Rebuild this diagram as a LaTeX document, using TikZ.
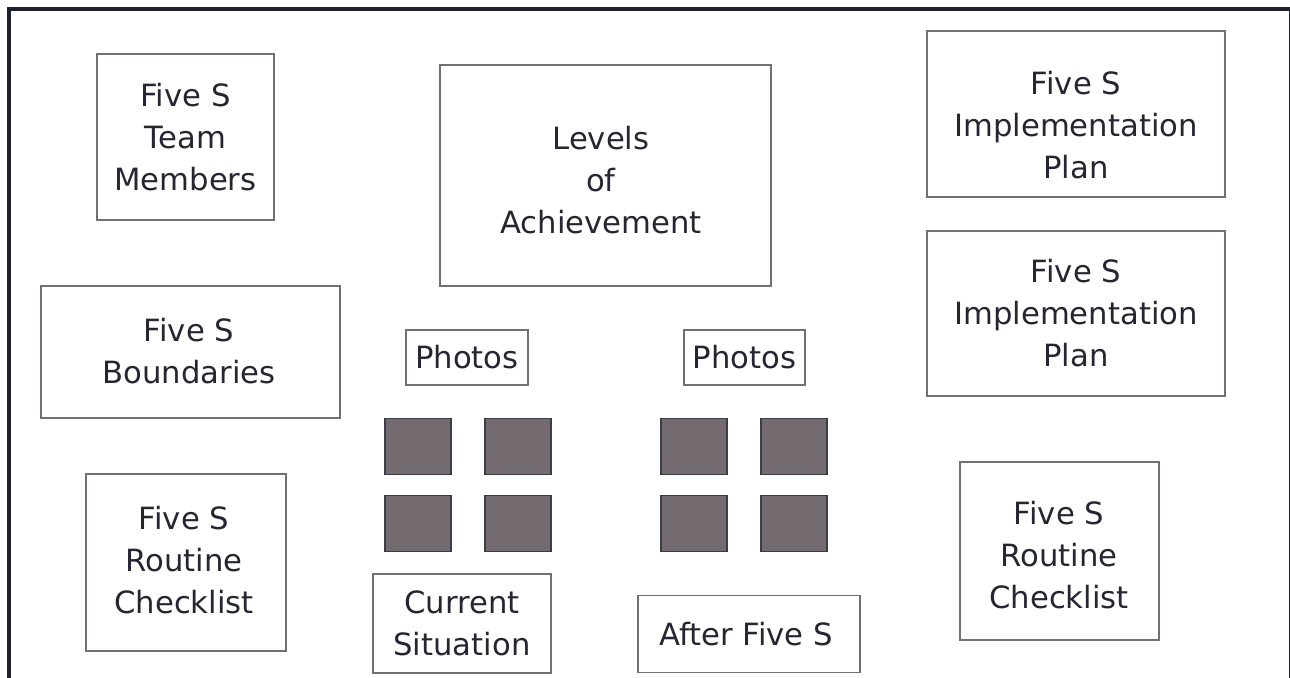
\documentclass[tikz,border=0pt]{standalone}
\usepackage{fontspec}
\setmainfont{DejaVu Sans}
\definecolor{framec}{HTML}{1E2230}
\definecolor{boxc}{HTML}{707078}
\definecolor{txtc}{HTML}{262633}
\definecolor{photofill}{HTML}{736B70}
\definecolor{photoline}{HTML}{3C3C48}
\begin{document}
\begin{tikzpicture}[x=0.75pt,y=-0.75pt,
  panel/.style={draw=boxc,line width=1.1pt,rectangle,inner sep=0pt},
  lbl/.style={text=txtc,align=center,inner sep=0pt,
    font=\fontsize{23}{31.5}\selectfont},
  photo/.style={draw=photoline,fill=photofill,line width=1.4pt,
    minimum width=66*0.75pt,minimum height=56*0.75pt,inner sep=0pt}]
\useasboundingbox (0,0) rectangle (1290,678);
\begin{scope}
\clip (0,0) rectangle (1290,678);
% outer board frame, open at the bottom
\draw[framec,line width=3.6pt] (9,700) -- (9,9) -- (1291,9) -- (1291,700);
\end{scope}

% panels: centre and size in pixels
\node[panel,minimum width=177*0.75pt,minimum height=166*0.75pt] (team) at (185.5,137) {};
\node[lbl] (team-t) at (185.5,137) {Five S\\Team\\Members};

\node[panel,minimum width=331*0.75pt,minimum height=221*0.75pt] (levels) at (605.5,175.5) {};
\node[lbl] (levels-t) at (601,180) {Levels\\of\\Achievement};

\node[panel,minimum width=298*0.75pt,minimum height=166*0.75pt] (plan1) at (1076,114) {};
\node[lbl] (plan1-t) at (1076,125) {Five S\\Implementation\\Plan};

\node[panel,minimum width=298*0.75pt,minimum height=165*0.75pt] (plan2) at (1076,313.5) {};
\node[lbl] (plan2-t) at (1076,313) {Five S\\Implementation\\Plan};

\node[panel,minimum width=299*0.75pt,minimum height=132*0.75pt] (bound) at (190.5,352) {};
\node[lbl] (bound-t) at (189,351) {Five S\\Boundaries};

\node[panel,minimum width=200*0.75pt,minimum height=177*0.75pt] (check1) at (186,562.5) {};
\node[lbl] (check1-t) at (184,560) {Five S\\Routine\\Checklist};

\node[panel,minimum width=199*0.75pt,minimum height=178*0.75pt] (check2) at (1059.5,551) {};
\node[lbl] (check2-t) at (1059,555) {Five S\\Routine\\Checklist};

\node[panel,minimum width=122*0.75pt,minimum height=55*0.75pt] (photos1) at (467,357.5) {};
\node[lbl] (photos1-t) at (467,357.5) {Photos};

\node[panel,minimum width=121*0.75pt,minimum height=55*0.75pt] (photos2) at (744.5,357.5) {};
\node[lbl] (photos2-t) at (744.5,357.5) {Photos};

\node[panel,minimum width=178*0.75pt,minimum height=99*0.75pt] (current) at (462,623.5) {};
\node[lbl] (current-t) at (462,623) {Current\\Situation};

\node[panel,minimum width=222*0.75pt,minimum height=77*0.75pt] (after) at (749,634) {};
\node[lbl] (after-t) at (746,634) {After Five S};

% photo placeholders
\node[photo] (p1) at (418,446.5) {};
\node[photo] (p2) at (518,446.5) {};
\node[photo] (p3) at (418,523.5) {};
\node[photo] (p4) at (518,523.5) {};
\node[photo] (p5) at (694,446.5) {};
\node[photo] (p6) at (794,446.5) {};
\node[photo] (p7) at (694,523.5) {};
\node[photo] (p8) at (794,523.5) {};
\end{tikzpicture}
\end{document}
